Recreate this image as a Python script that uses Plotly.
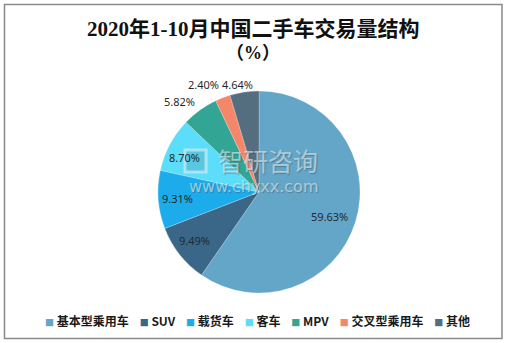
import math
import plotly.graph_objects as go

# 2020年1-10月二手车交易量结构（%）
categories = ["基本型乘用车", "SUV", "载货车", "客车", "MPV", "交叉型乘用车", "其他"]
shares = [59.63, 9.49, 9.31, 8.70, 5.82, 2.40, 4.64]
colors = ["#64A6C7", "#3A6787", "#1DACEB", "#5CDDF9", "#33A594", "#F4866A", "#546E7F"]
# value label placement: fraction of pie radius and angular nudge (degrees)
label_radius = [0.74, 0.8, 0.81, 0.81, 1.19, 1.2, 1.09]
label_nudge = [2, 1, 0, -3, -5.4, -6, -3]

W, H = 507, 343
cx, cy, R = 259, 192, 101  # pie centre / radius in pixels


def px_x(x):
    return x / W


def px_y(y):
    return 1 - y / H


fig = go.Figure(go.Pie(
    labels=categories,
    values=shares,
    sort=False,
    direction="clockwise",
    rotation=0,
    marker=dict(colors=colors, line=dict(color="rgba(255,255,255,0.35)", width=0.6)),
    textinfo="none",
    hoverinfo="label+percent",
    domain=dict(x=[px_x(cx - R), px_x(cx + R)], y=[px_y(cy + R), px_y(cy - R)]),
))

annotations = []


def add_text(x, y, text, font):
    annotations.append(dict(x=px_x(x), y=px_y(y), xref="paper", yref="paper",
                            xanchor="center", yanchor="middle",
                            text=text, showarrow=False, font=font))


# value labels positioned around each slice's mid-angle
total = sum(shares)
cum = 0.0
for v, rf, nudge in zip(shares, label_radius, label_nudge):
    mid = (cum + v / 2) / total * 2 * math.pi + math.radians(nudge)
    cum += v
    add_text(cx + rf * R * math.sin(mid), cy - rf * R * math.cos(mid), f"{v:.2f}%",
             dict(family="Noto Sans, Open Sans, sans-serif", size=11, color="#1f2a30"))

# title (two lines)
title_font = dict(family="Liberation Serif, Noto Sans CJK SC, serif", size=21, color="#111111", weight="bold")
add_text(253, 29, "2020年1-10月中国二手车交易量结构", title_font)
add_text(253, 53, "（%）", dict(title_font, size=18))

# watermark
wm_fill = "rgba(228,240,246,0.6)"
wm_shadow = "1px 1px 1px rgba(60,80,95,0.75)"
add_text(268, 160, "智研咨询",
         dict(family="Noto Sans CJK SC", size=25, color=wm_fill, shadow=wm_shadow))
add_text(253, 186, "www.chyxx.com",
         dict(family="DejaVu Sans, sans-serif", size=16, color=wm_fill, shadow=wm_shadow))

# legend row: coloured square + category name
gap = "&nbsp;" * 4
legend_text = gap.join(
    f"<span style='font-size:9px;color:{c}'>■</span>&nbsp;{name}"
    for name, c in zip(categories, colors)
)
add_text(257, 320, legend_text,
         dict(family="Noto Sans CJK SC", size=12, color="#1a1a1a", weight="bold"))

fig.update_layout(
    width=W, height=H,
    margin=dict(l=0, r=0, t=0, b=0),
    paper_bgcolor="white",
    plot_bgcolor="white",
    showlegend=False,
    annotations=annotations,
    shapes=[
        dict(type="rect", xref="paper", yref="paper",
             x0=px_x(4.5), x1=px_x(502), y0=px_y(338.5), y1=px_y(4.5),
             line=dict(color="#8a8a8a", width=1.5)),
        # watermark logo frame
        dict(type="rect", xref="paper", yref="paper",
             x0=px_x(185), x1=px_x(206), y0=px_y(172), y1=px_y(150),
             line=dict(color="rgba(228,240,246,0.6)", width=3),
             fillcolor="rgba(60,80,95,0.15)"),
    ],
)

fig.write_html("out.html")
